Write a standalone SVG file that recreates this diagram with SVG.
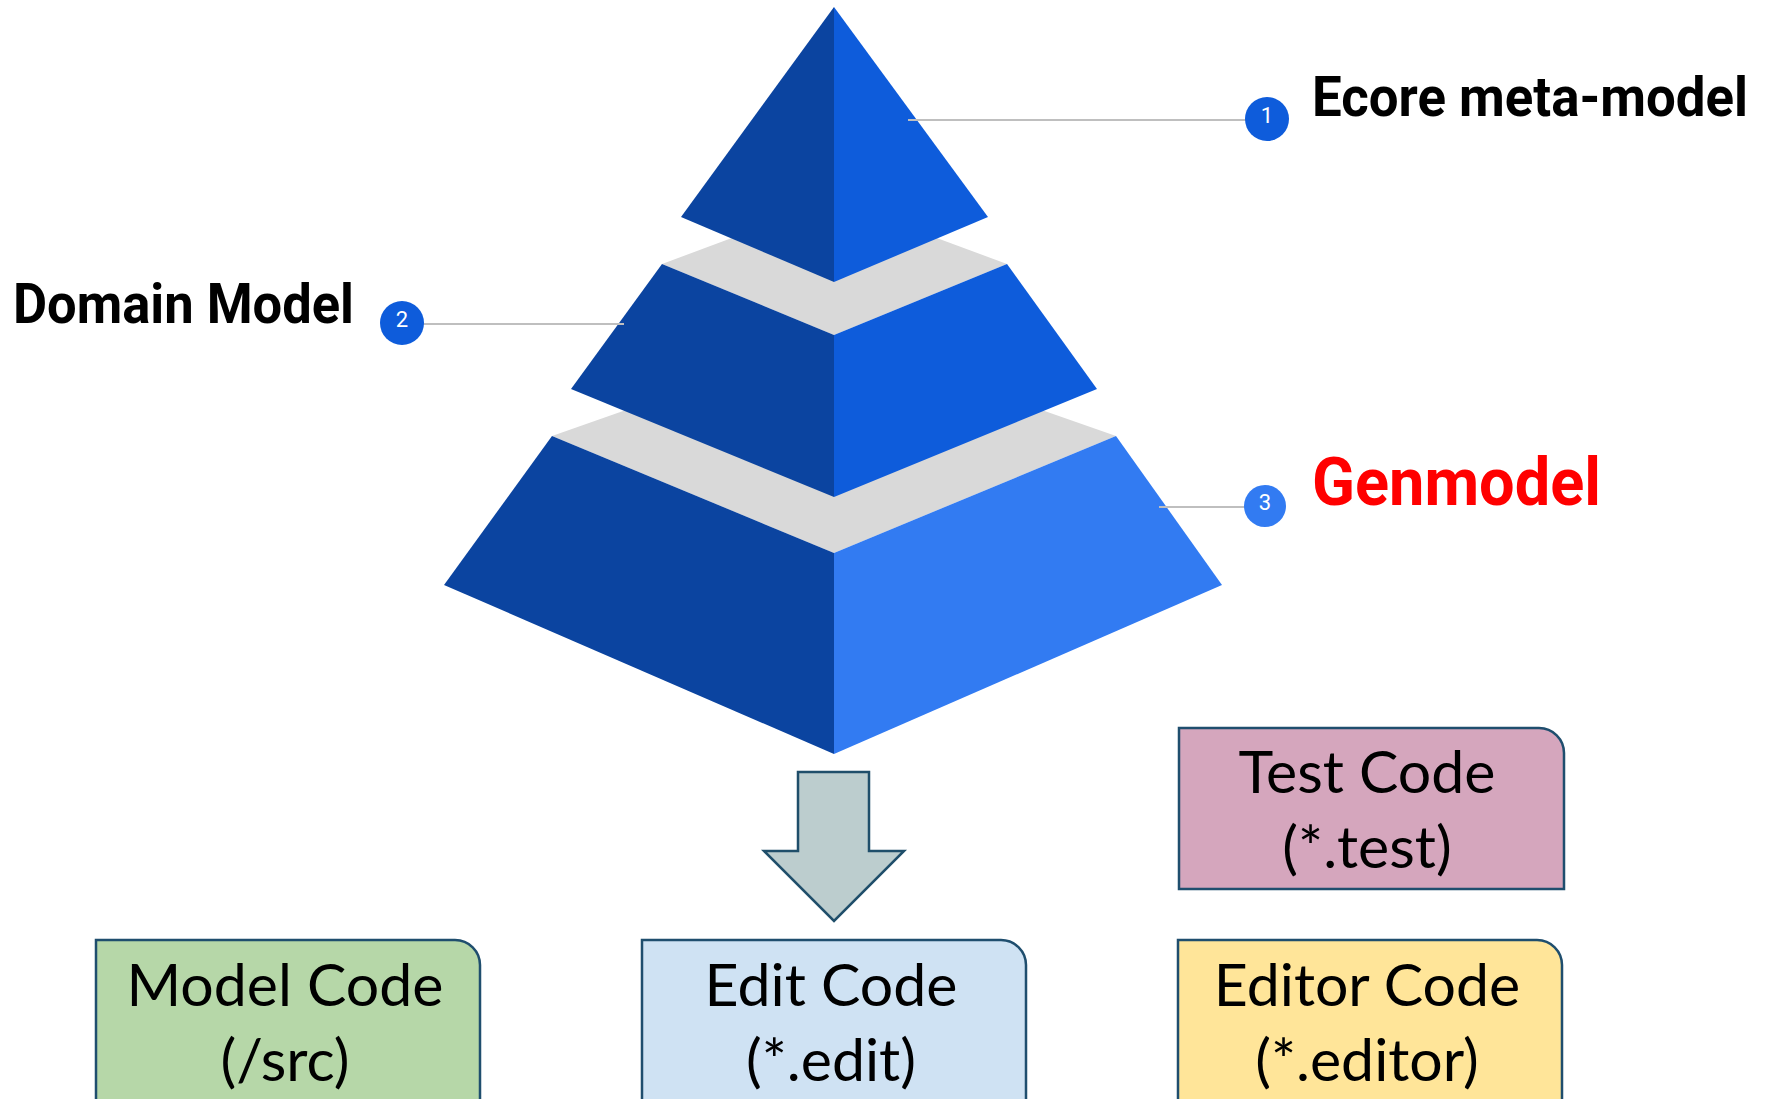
<svg xmlns="http://www.w3.org/2000/svg" width="1769" height="1099" viewBox="0 0 1769 1099">
  <style>
    .dark { fill: #0B44A0; }
    .mid { fill: #0E5CDB; }
    .light { fill: #327BF2; }
    .ledge { fill: #D9D9D9; }
    .leader { stroke: #BFBFBF; stroke-width: 2; fill: none; }
    .badge-num { font-family: Roboto, "Liberation Sans", sans-serif; font-size: 22px; fill: #FFFFFF; text-anchor: middle; }
    .label { font-family: Roboto, "Liberation Sans", sans-serif; font-weight: 700; }
    .box { stroke: #1F4E6E; stroke-width: 2.5; }
    .box-text { font-family: Lato, "Open Sans", "Liberation Sans", sans-serif; font-size: 59px; fill: #000000; text-anchor: middle; }
  </style>

  <rect x="0" y="0" width="1769" height="1099" fill="#FFFFFF"/>

  <!-- pyramid: bottom tier -->
  <g id="tier-genmodel">
    <polygon class="ledge" points="552,436 834,337 1116,436 834,553"/>
    <polygon class="dark" points="552,436 834,553 834,754 444,585"/>
    <polygon class="light" points="1116,436 834,553 834,754 1222,585"/>
  </g>

  <!-- pyramid: middle tier -->
  <g id="tier-domain">
    <polygon class="ledge" points="662,264 834,200 1007,264 834,335"/>
    <polygon class="dark" points="662,264 834,335 834,497 571,389"/>
    <polygon class="mid" points="1007,264 834,335 834,497 1097,389"/>
  </g>

  <!-- pyramid: top -->
  <g id="tier-ecore">
    <polygon class="dark" points="834,7 834,282 681,217"/>
    <polygon class="mid" points="834,7 834,282 988,217"/>
  </g>

  <!-- leader lines and the generation arrow -->
  <g id="connectors">
    <line class="leader" x1="908" y1="120" x2="1250" y2="120"/>
    <line class="leader" x1="410" y1="324" x2="624" y2="324"/>
    <line class="leader" x1="1159" y1="507" x2="1250" y2="507"/>
    <polygon points="798,772 869,772 869,851 904,851 834,921 764,851 798,851" fill="#BCCDCE" stroke="#1F4E6A" stroke-width="2.5" stroke-linejoin="miter"/>
  </g>

  <!-- numbered callouts -->
  <g id="callout-1">
    <circle class="mid" cx="1267" cy="119" r="22"/>
    <text class="badge-num" x="1267" y="123">1</text>
    <text class="label" x="1312" y="116" font-size="55" textLength="436" lengthAdjust="spacingAndGlyphs" fill="#000000">Ecore meta-model</text>
  </g>
  <g id="callout-2">
    <circle class="mid" cx="402" cy="323" r="22"/>
    <text class="badge-num" x="402" y="327">2</text>
    <text class="label" x="13" y="323" font-size="56" textLength="341" lengthAdjust="spacingAndGlyphs" fill="#000000">Domain Model</text>
  </g>
  <g id="callout-3">
    <circle class="light" cx="1265" cy="506" r="21"/>
    <text class="badge-num" x="1265" y="510">3</text>
    <text class="label" x="1312" y="505" font-size="67" textLength="289" lengthAdjust="spacingAndGlyphs" fill="#FF0000">Genmodel</text>
  </g>

  <!-- generated code boxes -->
  <g id="test-code">
    <path class="box" fill="#D5A6BD" d="M1179,728 H1539 A25,25 0 0 1 1564,753 V889 H1179 Z"/>
    <text class="box-text" x="1367" y="793">Test Code</text>
    <text class="box-text" x="1367" y="868">(*.test)</text>
  </g>
  <g id="model-code">
    <path class="box" fill="#B6D7A8" d="M96,940 H455 A25,25 0 0 1 480,965 V1110 H96 Z"/>
    <text class="box-text" x="285" y="1006">Model Code</text>
    <text class="box-text" x="285" y="1081">(/src)</text>
  </g>
  <g id="edit-code">
    <path class="box" fill="#CFE2F3" d="M642,940 H1001 A25,25 0 0 1 1026,965 V1110 H642 Z"/>
    <text class="box-text" x="831" y="1006">Edit Code</text>
    <text class="box-text" x="831" y="1081">(*.edit)</text>
  </g>
  <g id="editor-code">
    <path class="box" fill="#FFE599" d="M1178,940 H1537 A25,25 0 0 1 1562,965 V1110 H1178 Z"/>
    <text class="box-text" x="1367" y="1006">Editor Code</text>
    <text class="box-text" x="1367" y="1081">(*.editor)</text>
  </g>
</svg>
